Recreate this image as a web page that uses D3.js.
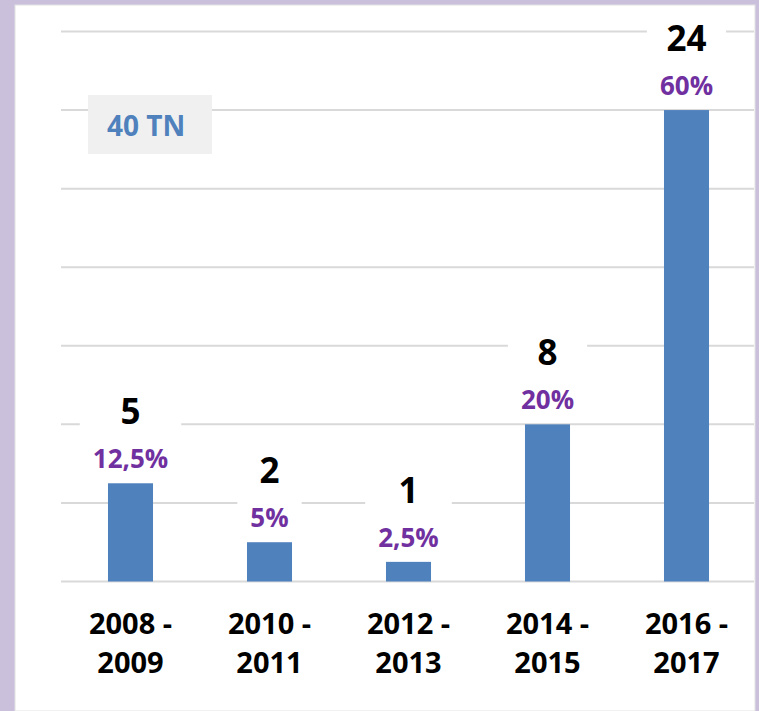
<!DOCTYPE html>
<html>
<head>
<meta charset="utf-8">
<script src="https://cdn.jsdelivr.net/npm/d3@7"></script>
<style>
  html, body { margin: 0; padding: 0; background: #fff; }
  svg { display: block; }
  text { font-family: "Open Sans", Lato, sans-serif; font-weight: bold; }
</style>
</head>
<body>
<div id="chart"></div>
<script>
// Chart data
const categories = ["2008 - 2009", "2010 - 2011", "2012 - 2013", "2014 - 2015", "2016 - 2017"];
const counts = [5, 2, 1, 8, 24];
const shares = ["12,5%", "5%", "2,5%", "20%", "60%"];
const gridTicks = [0, 4, 8, 12, 16, 20, 24, 28];
const totalLabel = "40 TN";

const W = 759, H = 711;

const svg = d3.select("#chart")
  .append("svg")
  .attr("width", W)
  .attr("height", H);

// Lavender frame with white page inside
svg.append("rect").attr("width", W).attr("height", H).attr("fill", "#cbc0dc");
svg.append("rect")
  .attr("x", 15).attr("y", 5)
  .attr("width", 740).attr("height", H - 5)
  .attr("fill", "#fff")
  .attr("stroke", "#e2e2e2")
  .attr("stroke-width", 1);

const x = d3.scaleBand().domain(categories).range([61, 756]).padding(0);
const y = d3.scaleLinear().domain([0, 28]).range([581.5, 31.5]);
const barW = x.bandwidth() * 0.324;

// Gridlines
svg.append("g")
  .selectAll("line")
  .data(gridTicks)
  .join("line")
  .attr("x1", 61)
  .attr("x2", 754)
  .attr("y1", d => y(d))
  .attr("y2", d => y(d))
  .attr("stroke", "#d9d9d9")
  .attr("stroke-width", 2);

// Bars
svg.append("g")
  .selectAll("rect")
  .data(counts)
  .join("rect")
  .attr("x", (d, i) => x(categories[i]) + (x.bandwidth() - barW) / 2)
  .attr("y", d => y(d))
  .attr("width", barW)
  .attr("height", d => y(0) - y(d))
  .attr("fill", "#4f81bd");

// Data labels (white box hides the gridlines behind them)
const labels = svg.append("g")
  .selectAll("g")
  .data(counts)
  .join("g")
  .attr("transform", (d, i) => `translate(${x(categories[i]) + x.bandwidth() / 2},${y(d)})`);

const boxes = labels.append("rect").attr("fill", "#fff");

const numText = labels.append("text")
  .attr("text-anchor", "middle")
  .attr("y", -59)
  .attr("font-size", 35)
  .attr("fill", "#000")
  .text(d => d);

const pctText = labels.append("text")
  .attr("text-anchor", "middle")
  .attr("y", -15)
  .attr("font-size", 26)
  .attr("fill", "#7030a0")
  .text((d, i) => shares[i]);

boxes.each(function (d, i) {
  const w = Math.max(numText.nodes()[i].getComputedTextLength(),
                     pctText.nodes()[i].getComputedTextLength()) + 26;
  d3.select(this)
    .attr("x", -w / 2)
    .attr("y", -94)
    .attr("width", w)
    .attr("height", 92);
});

// Category labels on two lines
const cat = svg.append("g")
  .selectAll("text")
  .data(categories)
  .join("text")
  .attr("text-anchor", "middle")
  .attr("font-size", 29)
  .attr("fill", "#000");

cat.each(function (d) {
  const parts = d.split(" - ");
  const t = d3.select(this);
  const cx = x(d) + x.bandwidth() / 2;
  t.append("tspan").attr("x", cx).attr("y", 634).text(parts[0] + " -");
  t.append("tspan").attr("x", cx).attr("y", 673).text(parts[1]);
});

// Total box
svg.append("rect")
  .attr("x", 88).attr("y", 95)
  .attr("width", 124).attr("height", 59)
  .attr("fill", "#f0f0f0");
svg.append("text")
  .attr("x", 107).attr("y", 136)
  .attr("font-size", 28)
  .attr("fill", "#4f81bd")
  .text(totalLabel);
</script>
</body>
</html>
